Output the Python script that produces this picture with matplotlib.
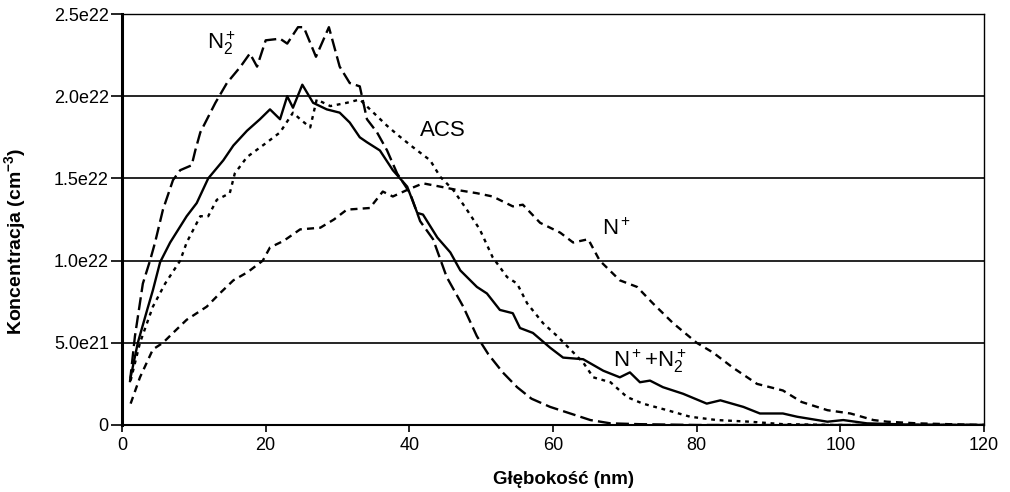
import matplotlib
matplotlib.use("Agg")
import matplotlib.pyplot as plt
import numpy as np

plt.rcParams['font.family'] = ['Liberation Sans', 'DejaVu Sans']
plt.rcParams['mathtext.fontset'] = 'custom'
plt.rcParams['mathtext.rm'] = 'Liberation Sans'
plt.rcParams['mathtext.it'] = 'Liberation Sans:italic'
plt.rcParams['mathtext.bf'] = 'Liberation Sans:bold'
plt.rcParams['mathtext.sf'] = 'Liberation Sans'

# Depth (nm) and concentration (units of 1e21 cm^-3)
x_n2 = [1.1, 1.8, 2.9, 3.9, 4.6, 5.7, 7.1, 8.1, 9.7, 10.2, 10.9, 13.0, 14.6, 16.5, 17.8, 18.8,
        20.0, 22.0, 23.0, 24.5, 25.3, 27.0, 28.8, 30.3, 31.7, 33.1, 34.1, 35.5, 36.9, 38.3,
        40.1, 41.5, 43.3, 45.2, 47.5, 49.4, 51, 53, 55, 57, 59.6, 62.4, 65.2, 68, 72, 80, 120]
y_n2 = [2.6, 5.4, 8.6, 10.0, 11.1, 13.1, 14.9, 15.5, 15.8, 16.7, 17.8, 19.6, 20.8, 21.8, 22.6, 21.8,
        23.4, 23.5, 23.2, 24.2, 24.2, 22.4, 24.2, 21.8, 20.8, 20.6, 18.6, 17.8, 16.7, 15.3,
        14.1, 12.4, 11.3, 9.0, 7.2, 5.4, 4.3, 3.2, 2.3, 1.6, 1.1, 0.7, 0.3, 0.1, 0.05, 0.0, 0.0]

x_n = [1.2, 2.5, 4.3, 5.7, 7.1, 9.0, 11.8, 13.6, 15.5, 17.5, 19.6, 20.6, 22.5, 24.8, 27.6,
       29.5, 31.3, 34.5, 36.3, 37.7, 39.7, 41.9, 44.3, 46.6, 49.4, 51.6, 54.4, 55.8, 58.2, 61,
       62.8, 64.9, 66.5, 69.3, 71.7, 73.9, 76.7, 80.0, 82.3, 85, 88.4, 92, 94.6, 98.2, 101.4,
       104.6, 106.5, 110.7, 115, 120]
y_n = [1.3, 2.9, 4.6, 5.0, 5.6, 6.4, 7.2, 8.0, 8.8, 9.3, 10.0, 10.8, 11.2, 11.9, 12.0,
       12.5, 13.1, 13.2, 14.2, 13.9, 14.3, 14.7, 14.5, 14.3, 14.1, 13.9, 13.3, 13.4, 12.3, 11.7,
       11.1, 11.3, 10.0, 8.8, 8.4, 7.4, 6.2, 5.0, 4.4, 3.5, 2.5, 2.1, 1.4, 0.9, 0.7,
       0.3, 0.2, 0.1, 0.05, 0.0]

x_acs = [1.2, 2.5, 4.3, 6.0, 8.1, 9.0, 10.9, 12.0, 13.2, 15.0, 15.7, 17.4, 20.2, 22.0, 23.8,
         24.8, 26.2, 27.1, 29.0, 31.3, 33.1, 35.0, 36.9, 38.5, 40.5, 42.9, 44.3, 46.1, 48.0,
         49.8, 51.6, 53.6, 55.0, 56.4, 58.6, 60.6, 62.4, 64.2, 65.6, 68, 70.3, 72.5, 75.9,
         79.1, 82.8, 87.4, 92, 100, 120]
y_acs = [2.7, 5.0, 7.2, 8.6, 10.0, 11.1, 12.7, 12.7, 13.7, 14.1, 15.3, 16.3, 17.2, 17.8, 19.0,
         18.6, 18.1, 19.8, 19.4, 19.6, 19.8, 19.0, 18.2, 17.6, 16.9, 16.1, 15.1, 14.3, 13.1,
         11.9, 10.2, 9.0, 8.6, 7.4, 6.2, 5.4, 4.6, 3.8, 2.9, 2.6, 1.7, 1.3, 0.9,
         0.5, 0.3, 0.2, 0.05, 0.0, 0.0]

x_sum = [1.2, 2.2, 3.5, 4.3, 5.3, 6.7, 9.0, 10.4, 12.0, 14.1, 15.5, 17.4, 19.2, 20.6, 22.0,
         23.0, 23.8, 25.1, 26.6, 28.5, 30.3, 31.7, 33.1, 34.1, 35.9, 37.7, 39.7, 41.1, 41.9,
         43.9, 45.7, 47.1, 49.4, 50.8, 52.6, 54.4, 55.4, 57.2, 59.6, 61.4, 64.2, 67, 69.3,
         70.7, 72.1, 73.5, 75.3, 78.1, 81.4, 83.3, 86.5, 88.8, 92, 94, 98.2, 100.4, 103.7,
         110, 120]
y_sum = [2.9, 5.0, 7.0, 8.2, 9.9, 11.1, 12.7, 13.5, 15.0, 16.1, 17.0, 17.9, 18.6, 19.2, 18.6,
         20.0, 19.3, 20.7, 19.6, 19.2, 19.0, 18.4, 17.5, 17.2, 16.7, 15.5, 14.5, 12.9, 12.8,
         11.4, 10.5, 9.4, 8.4, 8.0, 7.0, 6.8, 5.9, 5.6, 4.7, 4.1, 4.0, 3.3, 2.9,
         3.2, 2.6, 2.7, 2.3, 1.9, 1.3, 1.5, 1.1, 0.7, 0.7, 0.5, 0.2, 0.3, 0.1,
         0.02, 0.0]

y_ticks = [0, 5e21, 1e22, 1.5e22, 2e22, 2.5e22]
y_tick_labels = ["0", "5.0e21", "1.0e22", "1.5e22", "2.0e22", "2.5e22"]
x_ticks = [0, 20, 40, 60, 80, 100, 120]

fig = plt.figure(figsize=(10.1, 4.92), dpi=100)
ax = fig.add_axes([0.1208, 0.1362, 0.8535, 0.8353])

lw = 1.7
def s(v):
    return np.array(v) * 1e21

ax.plot(x_n2, s(y_n2), color='black', lw=lw, dashes=(5.5, 2.2))
ax.plot(x_n, s(y_n), color='black', lw=lw, dashes=(3.0, 2.2))
ax.plot(x_acs, s(y_acs), color='black', lw=lw, dashes=(1.6, 2.0))
ax.plot(x_sum, s(y_sum), color='black', lw=lw)

ax.set_xlim(0, 120)
ax.set_ylim(0, 2.5e22)
ax.set_xticks(x_ticks)
ax.set_yticks(y_ticks)
ax.set_yticklabels(y_tick_labels)
ax.yaxis.grid(True, color='black', lw=1.2)
ax.set_axisbelow(True)
for sp in ax.spines.values():
    sp.set_color('black')
    sp.set_linewidth(1.0)
ax.spines['left'].set_linewidth(2.2)
ax.spines['bottom'].set_linewidth(1.5)
ax.tick_params(axis='both', direction='out', width=1.2, labelsize=13, colors='black')
ax.tick_params(axis='y', length=8, pad=1.5)
ax.tick_params(axis='x', length=5, pad=4)

ax.set_xlabel('Głębokość (nm)', fontsize=13.5, fontweight='bold')
ax.set_ylabel('Koncentracja (cm$^{\\mathbf{-3}}$)', fontsize=14, fontweight='bold')
ax.xaxis.set_label_coords(0.5116, -0.112)
ax.yaxis.set_label_coords(-0.109, 0.448)

tfs = 16
ax.text(13.9, 23.2e21, 'N$_2^+$', fontsize=tfs, ha='center', va='center')
ax.text(44.6, 17.9e21, 'ACS', fontsize=tfs, ha='center', va='center')
ax.text(68.8, 11.9e21, 'N$^+$', fontsize=tfs, ha='center', va='center')
ax.text(73.5, 3.9e21, 'N$^+$+N$_2^+$', fontsize=tfs, ha='center', va='center')

fig.savefig('out.png', dpi=100)
